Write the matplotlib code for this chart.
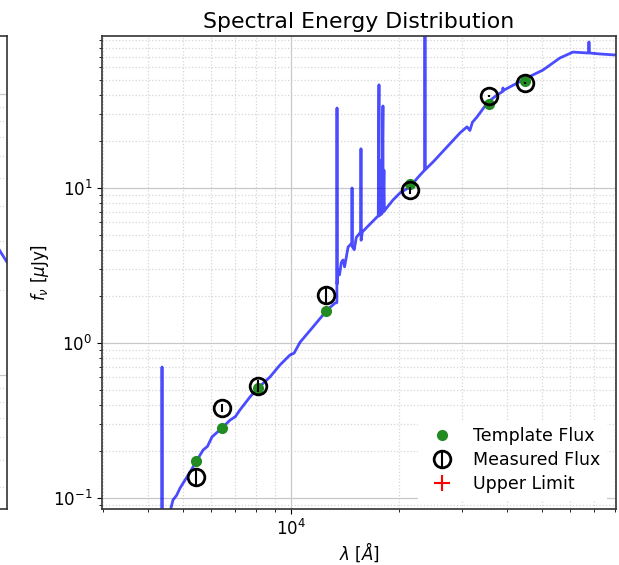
import numpy as np
import matplotlib
matplotlib.use("Agg")
import matplotlib.pyplot as plt
from matplotlib.ticker import LogLocator, NullFormatter

# template spectrum (Angstrom, micro-Jansky)
spec_wave = [4300, 4366, 4372, 4378, 4470, 4542, 4690, 4800, 4909, 5233,
             5435, 5690, 5850, 6026, 6425, 6763, 7000, 7207, 7690, 8043,
             8740, 9319, 9936, 10200, 10594, 11517, 12600, 13265, 13420, 13431,
             13442, 13521, 13650, 13800, 13960, 14100, 14420, 14780, 14792, 14804,
             15000, 15200, 15563, 15650, 15663, 15676, 15800, 16295, 17364, 17500,
             17580, 17600, 17700, 17750, 17850, 17900, 18034, 18050, 18150, 18200,
             18277, 19240, 20120, 21430, 22500, 23600, 23610, 23625, 24860, 27200,
             29580, 30920, 31500, 32000, 32960, 35380, 37510, 38900, 38950, 39000,
             40740, 45400, 50350, 56120, 61010, 66760, 67550, 67600, 67650, 72600,
             79900, 85000]
spec_flux = [0.012, 0.012, 0.70, 0.012, 0.05, 0.072, 0.097, 0.104, 0.116, 0.147,
             0.171, 0.204, 0.215, 0.248, 0.283, 0.318, 0.335, 0.370, 0.449, 0.505,
             0.604, 0.722, 0.837, 0.86, 1.01, 1.27, 1.63, 1.81, 1.82, 32.8,
             2.4, 2.96, 2.75, 3.3, 3.43, 3.1, 4.16, 4.42, 10.0, 4.2,
             4.0, 4.8, 5.13, 5.1, 17.9, 4.6, 5.2, 5.60, 6.50, 6.6,
             46.3, 6.6, 15.0, 6.7, 14.0, 6.8, 33.8, 7.0, 13.0, 7.1,
             7.22, 8.37, 9.29, 10.15, 11.6, 13.1, 200.0, 13.1, 14.7, 18.4,
             22.7, 24.8, 23.5, 26.5, 28.7, 35.9, 39.8, 42.0, 44.2, 42.5,
             44.9, 51.3, 57.7, 69.0, 75.3, 74.3, 74.5, 87.5, 74.3, 73.2,
             72.1, 71.5]

# photometry
phot_wave = [5435, 6425, 8093, 12518, 21450, 35610, 44870]
template_flux = [0.173, 0.283, 0.51, 1.61, 10.6, 34.8, 49.0]
measured_flux = [0.136, 0.381, 0.53, 2.04, 9.7, 39.3, 47.5]
measured_err = [0.016, 0.022, 0.05, 0.22, 0.5, 0.6, 0.7]

# neighbouring panel (only its right edge shows)
left_x = [0.97, 1.0]
left_flux = [2.85, 2.52]

W, H = 619, 565
fig = plt.figure(figsize=(W / 100, H / 100), dpi=100)

grid_major = dict(color="#c8c8c8", linestyle="-", linewidth=0.9)
grid_minor = dict(color="#d6d6d6", linestyle=":", linewidth=0.9)

# left panel, mostly off the canvas
axl = fig.add_axes([-0.5, 1 - 509 / H, 0.5 + 7 / W, 473 / H])
axl.set_yscale("log")
axl.set_xlim(0, 1)
axl.set_ylim(10 ** -0.477, 10 ** 1.206)
axl.plot(left_x, left_flux, color="blue", alpha=0.7, lw=2)
axl.yaxis.set_minor_locator(LogLocator(subs=np.arange(2, 10)))
axl.grid(True, which="major", axis="y", **grid_major)
axl.grid(True, which="minor", axis="y", **grid_minor)
axl.tick_params(labelleft=False, labelbottom=False, left=False, bottom=False,
                which="both")
for s in axl.spines.values():
    s.set_linewidth(1.2)
    s.set_color("#333333")

# main SED panel
ax = fig.add_axes([102 / W, 1 - 509 / H, 514 / W, 473 / H])
ax.set_xscale("log")
ax.set_yscale("log")

ax.plot(spec_wave, spec_flux, color="blue", alpha=0.7, lw=2, zorder=2)
h_tmpl, = ax.plot(phot_wave, template_flux, "o", color="forestgreen", ms=7,
                  label="Template Flux", zorder=3)
h_meas = ax.errorbar(phot_wave, measured_flux, yerr=measured_err, fmt="o",
                     mfc="none", mec="black", ecolor="black", mew=2, ms=12,
                     elinewidth=1.5, capsize=0, label="Measured Flux", zorder=4)
h_lim, = ax.plot([], [], "+", color="red", ms=12, mew=1.5, label="Upper Limit")

ax.set_xlim(2975, 80400)
ax.set_ylim(0.0849, 95.6)

ax.xaxis.set_minor_locator(LogLocator(subs=np.arange(2, 10)))
ax.yaxis.set_minor_locator(LogLocator(subs=np.arange(2, 10)))
ax.xaxis.set_minor_formatter(NullFormatter())
ax.yaxis.set_minor_formatter(NullFormatter())
ax.grid(True, which="major", **grid_major)
ax.grid(True, which="minor", **grid_minor)
ax.set_axisbelow(True)
ax.tick_params(labelsize=12)
for s in ax.spines.values():
    s.set_linewidth(1.2)
    s.set_color("#333333")

ax.set_title("Spectral Energy Distribution", fontsize=15.8)
ax.set_xlabel(r"$\lambda$ [$\AA$]", fontsize=12, labelpad=1)
ax.set_ylabel(r"$f_\nu$ [$\mu$Jy]", fontsize=12, labelpad=1)

ax.legend([h_tmpl, h_meas, h_lim], ["Template Flux", "Measured Flux", "Upper Limit"],
          loc="lower right", fontsize=12.5, numpoints=1, framealpha=1,
          edgecolor="none", fancybox=False, labelspacing=0.35)

fig.savefig("out.png", dpi=100)
